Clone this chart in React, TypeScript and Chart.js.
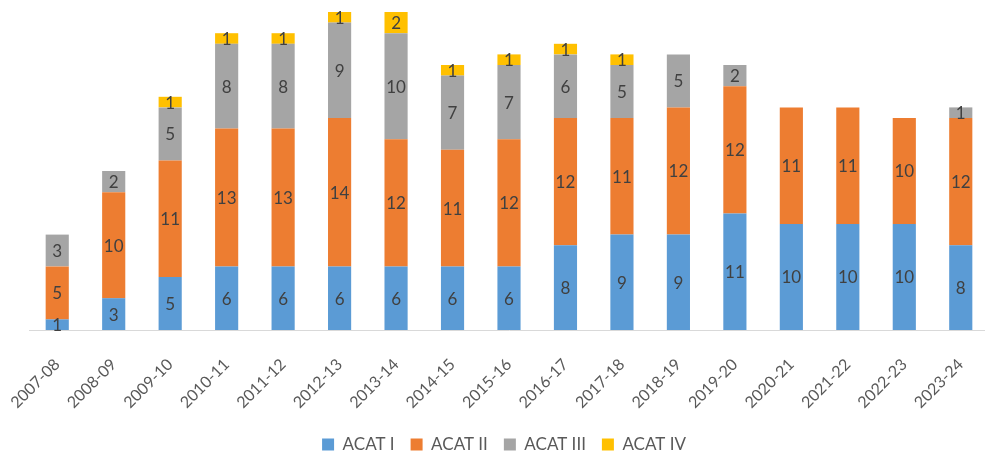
import React, { useEffect, useRef } from "react";
import { Chart, registerables } from "chart.js";

Chart.register(...registerables);

const categories = ["2007-08","2008-09","2009-10","2010-11","2011-12","2012-13","2013-14","2014-15","2015-16","2016-17","2017-18","2018-19","2019-20","2020-21","2021-22","2022-23","2023-24"];
const acatI = [1,3,5,6,6,6,6,6,6,8,9,9,11,10,10,10,8];
const acatII = [5,10,11,13,13,14,12,11,12,12,11,12,12,11,11,10,12];
const acatIII = [3,2,5,8,8,9,10,7,7,6,5,5,2,0,0,0,1];
const acatIV = [0,0,1,1,1,1,2,1,1,1,1,0,0,0,0,0,0];
const seriesNames = ["ACAT I", "ACAT II", "ACAT III", "ACAT IV"];
const seriesColors = ["#5B9BD5", "#ED7D31", "#A5A5A5", "#FFC000"];

const FONT = "Lato, 'Open Sans', sans-serif";

const labelPlugin = {
  id: "segLabels",
  afterDatasetsDraw(chart: any) {
    const ctx = chart.ctx;
    ctx.save();
    ctx.font = `17px ${FONT}`;
    ctx.fillStyle = "#404040";
    ctx.textAlign = "center";
    ctx.textBaseline = "middle";
    chart.data.datasets.forEach((ds: any, i: number) => {
      const meta = chart.getDatasetMeta(i);
      meta.data.forEach((bar: any, j: number) => {
        const v = ds.data[j];
        if (!v) return;
        const y = (bar.y + bar.base) / 2;
        ctx.fillText(String(v), bar.x, y + 1);
      });
    });
    ctx.restore();
  },
};

export default function App() {
  const ref = useRef<HTMLCanvasElement>(null);
  useEffect(() => {
    if (!ref.current) return;
    const data = [acatI, acatII, acatIII, acatIV];
    const chart = new Chart(ref.current, {
      type: "bar",
      data: {
        labels: categories,
        datasets: data.map((d, i) => ({
          label: seriesNames[i],
          data: d,
          backgroundColor: seriesColors[i],
          borderWidth: 0,
          categoryPercentage: 1,
          barPercentage: 0.41,
        })),
      },
      options: {
        responsive: false,
        animation: false,
        devicePixelRatio: 1,
        layout: { padding: { top: 12, left: 19, right: 1, bottom: 0 } },
        plugins: {
          legend: {
            position: "bottom",
            labels: {
              boxWidth: 12,
              boxHeight: 12,
              padding: 16,
              color: "#595959",
              font: { family: FONT, size: 17 },
            },
          },
          tooltip: { enabled: false },
        },
        scales: {
          x: {
            stacked: true,
            grid: { display: false },
            border: { display: true, color: "#D9D9D9", width: 1 },
            ticks: {
              minRotation: 45,
              maxRotation: 45,
              color: "#595959",
              font: { family: FONT, size: 16 },
              padding: 17,
            },
            afterFit: (s: any) => {
              s.height = 90;
              s.paddingLeft = 29;
              s.paddingRight = 0;
            },
          },
          y: {
            stacked: true,
            display: false,
            min: 0,
            max: 30,
          },
        },
      },
      plugins: [labelPlugin],
    });
    return () => chart.destroy();
  }, []);
  return (
    <canvas
      ref={ref}
      width={990}
      height={463}
      style={{ position: "fixed", left: 0, top: 0, width: 990, height: 463 }}
    />
  );
}
